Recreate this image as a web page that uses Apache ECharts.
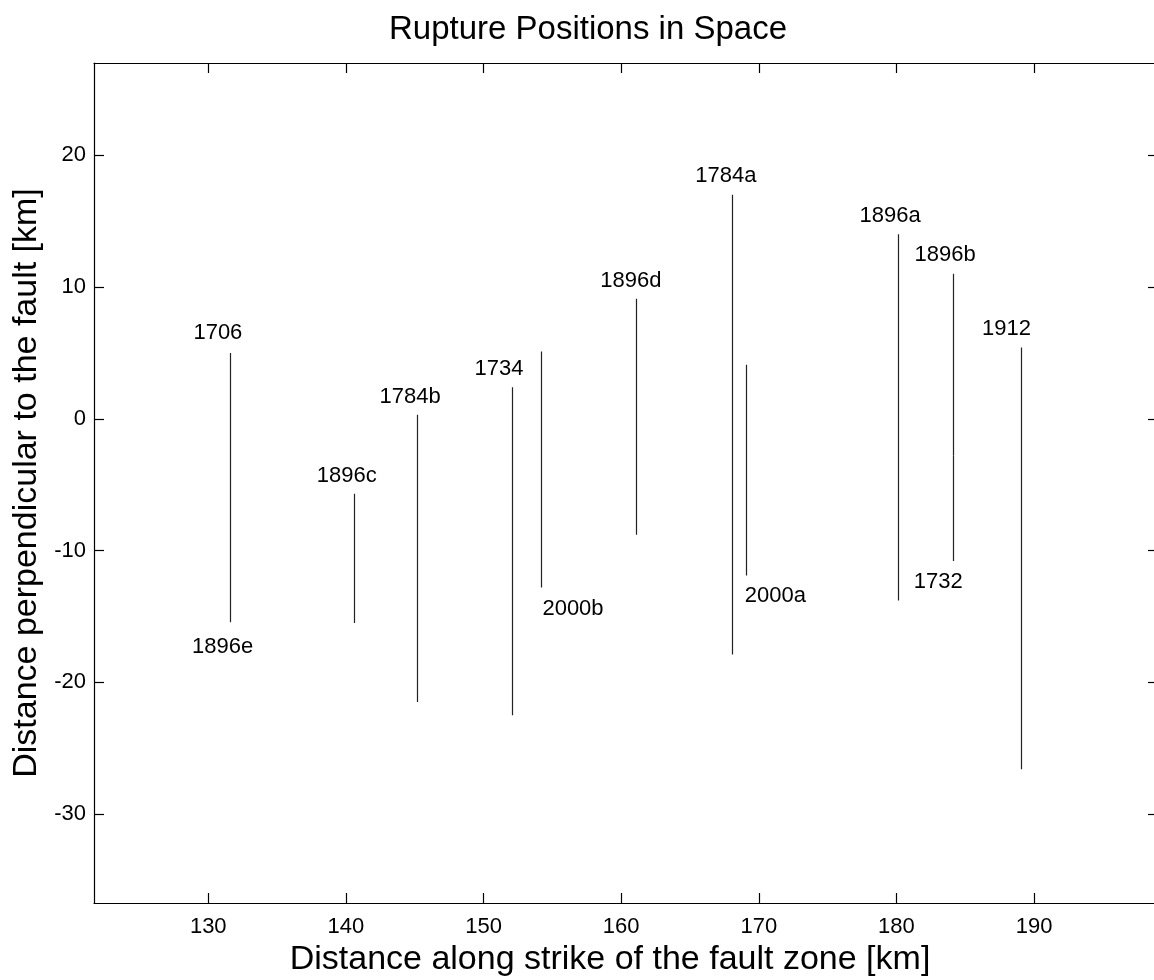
<!DOCTYPE html>
<html>
<head>
<meta charset="utf-8">
<script src="https://cdn.jsdelivr.net/npm/echarts@6/dist/echarts.min.js"></script>
<style>
html,body{margin:0;padding:0;background:#fff;}
#chart{width:1154px;height:980px;}
</style>
</head>
<body>
<div id="chart"></div>
<script>
// Rupture names, along-strike position, and top/bottom perpendicular extents (km)
var ruptureNames  = ['1706','1896e','1896c','1784b','1734','2000b','1896d','1784a','2000a','1896a','1896b','1732','1912'];
var ruptureX      = [131.6, 131.6, 140.6, 145.2, 152.1, 154.2, 161.1, 168.1, 169.05, 180.15, 184.1, 184.1, 189.1];
var ruptureTop    = [5.0,  -5.1,  -5.7,   0.3,   2.4,   5.1,   9.1,  17.0,   4.1,  14.0,  11.0,  -2.8,   5.4];
var ruptureBottom = [-5.1, -15.45, -15.5, -21.5, -22.5, -12.8, -8.8, -17.9, -11.9, -13.8, -2.8, -10.8, -26.6];
// Annotation anchor positions (data coordinates of the text labels)
var labelX = [130.7, 131.05, 140.06, 144.66, 151.13, 156.5, 160.7, 167.6, 171.2, 179.54, 183.54, 183.03, 188.0];
var labelY = [6.54, -17.35, -4.34, 1.65, 3.75, -14.44, 10.45, 18.46, -13.42, 15.43, 12.4, -12.42, 6.8];
// Axis ticks
var xTicks = [130, 140, 150, 160, 170, 180, 190];
var yTicks = [-30, -20, -10, 0, 10, 20];
var xRange = [121.7, 199];
var yRange = [-36.75, 27];

var FONT = '"Liberation Sans", Arial, Helvetica, sans-serif';

var segData = ruptureNames.map(function (n, i) {
  return { name: n, coords: [[ruptureX[i], ruptureTop[i]], [ruptureX[i], ruptureBottom[i]]] };
});
var labelData = ruptureNames.map(function (n, i) {
  return { name: n, value: [labelX[i], labelY[i]] };
});

function axisCommon(extra) {
  var base = {
    type: 'value',
    axisLine: { show: true, onZero: false, lineStyle: { color: '#000', width: 1.2 } },
    splitLine: { show: false },
    axisTick: { show: true, inside: true, length: 10, lineStyle: { color: '#000', width: 1.2 } }
  };
  for (var k in extra) base[k] = extra[k];
  return base;
}

var chart = echarts.init(document.getElementById('chart'), null, { renderer: 'canvas' });
chart.setOption({
  backgroundColor: '#fff',
  animation: false,
  title: {
    text: 'Rupture Positions in Space',
    left: 583,
    top: 8,
    textAlign: 'center',
    textStyle: { fontFamily: FONT, fontSize: 33, fontWeight: 'normal', color: '#000' }
  },
  grid: { left: 94, width: 1064, top: 63, height: 840, containLabel: false, outerBoundsMode: 'none' },
  xAxis: [
    axisCommon({
      position: 'bottom', min: xRange[0], max: xRange[1],
      axisTick: { show: true, inside: true, length: 10, customValues: xTicks, lineStyle: { color: '#000', width: 1.2 } },
      axisLabel: { show: true, customValues: xTicks, margin: 13, fontFamily: FONT, fontSize: 22, color: '#000' },
      name: 'Distance along strike of the fault zone [km]',
      nameLocation: 'middle', nameGap: 38,
      nameTextStyle: { fontFamily: FONT, fontSize: 34, color: '#000', padding: [0, 32, 0, 0] }
    }),
    axisCommon({
      position: 'top', min: xRange[0], max: xRange[1],
      axisTick: { show: true, inside: true, length: 10, customValues: xTicks, lineStyle: { color: '#000', width: 1.2 } },
      axisLabel: { show: false }
    })
  ],
  yAxis: [
    axisCommon({
      position: 'left', min: yRange[0], max: yRange[1],
      axisTick: { show: true, inside: true, length: 10, customValues: yTicks, lineStyle: { color: '#000', width: 1.2 } },
      axisLabel: { show: true, customValues: yTicks, margin: 8, fontFamily: FONT, fontSize: 22, color: '#000' },
      name: 'Distance perpendicular to the fault [km]',
      nameLocation: 'middle', nameGap: 43,
      nameTextStyle: { fontFamily: FONT, fontSize: 34, color: '#000' }
    }),
    axisCommon({
      position: 'right', min: yRange[0], max: yRange[1],
      axisTick: { show: true, inside: true, length: 10, customValues: yTicks, lineStyle: { color: '#000', width: 1.2 } },
      axisLabel: { show: false }
    })
  ],
  series: [
    {
      type: 'lines',
      coordinateSystem: 'cartesian2d',
      xAxisIndex: 0, yAxisIndex: 0,
      polyline: false,
      silent: true,
      lineStyle: { color: '#222', width: 1.2, opacity: 1 },
      data: segData
    },
    {
      type: 'scatter',
      xAxisIndex: 0, yAxisIndex: 0,
      symbolSize: 0,
      silent: true,
      label: {
        show: true, position: 'inside',
        formatter: function (p) { return p.name; },
        fontFamily: FONT, fontSize: 22, color: '#000', opacity: 1
      },
      data: labelData
    }
  ]
});
</script>
</body>
</html>
